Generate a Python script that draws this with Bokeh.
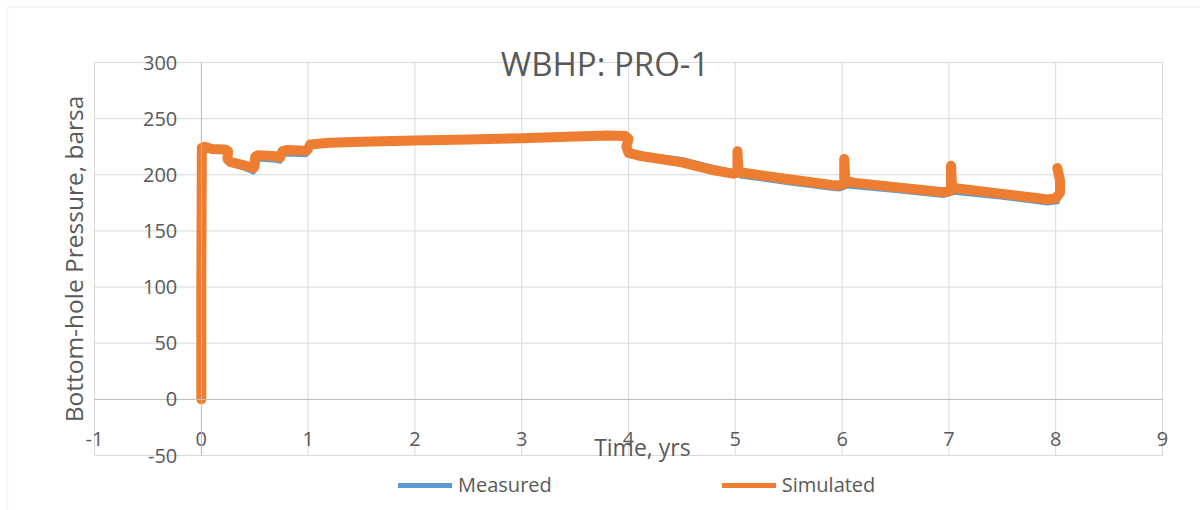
import math
from bokeh.plotting import figure
from bokeh.models import (Range1d, LinearAxis, FixedTicker, Label, Legend, LegendItem, BoxAnnotation)
from bokeh.embed import file_html
from bokeh.resources import INLINE

# ---- data ----
sim_t = [0.0, 0.0, 0.005, 0.03, 0.10, 0.22, 0.25, 0.245, 0.27, 0.40, 0.49, 0.50, 0.505, 0.53, 0.70, 0.74,
         0.76, 0.80, 0.98, 1.00, 1.02, 1.20, 1.50, 2.00, 2.50, 3.00, 3.50, 3.80, 3.97, 4.00, 3.98, 4.00,
         4.10, 4.50, 4.80, 4.98, 5.02, 5.02, 5.03, 5.06, 5.50, 5.90, 5.98, 6.02, 6.02, 6.03, 6.10, 6.50,
         6.95, 7.02, 7.02, 7.03, 7.10, 7.50, 7.80, 7.92, 8.00, 8.04, 8.04, 8.015]
sim_p = [0, 100, 224, 225, 223, 222.5, 221, 214, 211.5, 208.5, 206, 208, 216, 217.5, 216.5, 215.5,
         221, 222, 221.5, 223, 227, 228.5, 229.5, 230.5, 231.5, 232.5, 234, 235, 234.5, 232, 225, 219.5,
         217, 211, 204, 201, 202, 221, 203.5, 202, 196, 191, 190.5, 192, 214, 195, 193, 189,
         184.5, 186, 208, 189, 187.5, 183, 179.5, 178, 179, 184, 195, 206]

meas_t = [0.005, 0.03, 0.10, 0.22, 0.25, 0.27, 0.40, 0.49, 0.51, 0.53, 0.70, 0.74, 0.76, 0.80, 0.98,
          1.00, 1.02, 1.20, 1.50, 2.00, 2.50, 3.00, 3.50, 3.80, 3.97, 4.00, 4.02, 4.10, 4.50, 4.80,
          4.98, 5.05, 5.50, 5.90, 5.98, 6.05, 6.50, 6.95, 7.05, 7.50, 7.80, 7.92, 8.02]
meas_p = [222, 223, 221.5, 221, 219.5, 209, 205.5, 202, 212, 213.5, 212.5, 211.5, 217, 218, 217.5,
          219, 225.5, 227, 228, 229, 230, 231, 232.5, 233.5, 233, 226, 220, 219, 214, 207,
          203, 198.5, 192.5, 187.5, 187, 189.5, 185.5, 181, 184, 179.5, 176, 174.5, 175.5]

x_ticks = [-1, 0, 1, 2, 3, 4, 5, 6, 7, 8, 9]
y_ticks = [-50, 0, 50, 100, 150, 200, 250, 300]

title_text = "WBHP: PRO-1"
x_title = "Time, yrs"
y_title = "Bottom-hole Pressure, barsa"
series_names = ["Measured", "Simulated"]
BLUE = "#5B9BD5"
ORANGE = "#ED7D31"
TXT = "#595959"
GRID = "#d9d9d9"
FONT = "Open Sans"

W, H = 1200, 510
# plot-area placement (pixels) -> view ranges so that the frame covers the whole canvas
PL, PR, PT, PB = 94, 1162, 62, 455
xmin, xmax = x_ticks[0], x_ticks[-1]
ymin, ymax = y_ticks[0], y_ticks[-1]
sx = (PR - PL) / (xmax - xmin)
sy = (PB - PT) / (ymax - ymin)
x_range = Range1d(xmin - PL / sx, xmax + (W - PR) / sx)
y_range = Range1d(ymin - (H - PB) / sy, ymax + PT / sy)

p = figure(width=W, height=H, output_backend="svg", toolbar_location=None,
           x_range=x_range, y_range=y_range, x_axis_type=None, y_axis_type=None,
           min_border_left=0, min_border_right=0, min_border_top=0, min_border_bottom=0)
p.outline_line_color = None
p.background_fill_color = "white"
p.border_fill_color = "white"

# outer chart border
p.add_layout(BoxAnnotation(left=xmin - (PL - 7) / sx, top=ymax + (PT - 6.5) / sy,
                           right=xmax + 5, bottom=ymin - 200,
                           fill_alpha=0, line_color=GRID, line_width=1.5))

# gridlines of the plot area
p.segment(x0=x_ticks, y0=[ymin] * len(x_ticks), x1=x_ticks, y1=[ymax] * len(x_ticks),
          line_color=GRID, line_width=1)
p.segment(x0=[xmin] * len(y_ticks), y0=y_ticks, x1=[xmax] * len(y_ticks), y1=y_ticks,
          line_color=GRID, line_width=1)

xt = FixedTicker(ticks=x_ticks)
yt = FixedTicker(ticks=y_ticks)
xa = LinearAxis(ticker=xt, fixed_location=0, bounds=(xmin, xmax))
ya = LinearAxis(ticker=yt, fixed_location=0, bounds=(ymin, ymax))
xa.major_label_overrides = {t: str(t) for t in x_ticks}
ya.major_label_overrides = {t: str(t) for t in y_ticks}
for ax in (xa, ya):
    ax.axis_line_color = "#bfbfbf"
    ax.major_tick_line_color = None
    ax.minor_tick_line_color = None
    ax.major_tick_out = 0
    ax.major_tick_in = 0
    ax.major_label_text_font = FONT
    ax.major_label_text_font_size = "20px"
    ax.major_label_text_color = TXT
xa.major_label_standoff = 33
ya.major_label_standoff = 24
p.add_layout(xa, "below")
p.add_layout(ya, "left")

r_meas = p.line(meas_t, meas_p, line_color=BLUE, line_width=4, line_cap="round", line_join="round")
r_sim = p.line(sim_t, sim_p, line_color=ORANGE, line_width=10, line_cap="round", line_join="round")

# legend swatches (thinner lines as in reference legend), no visible data
nan = float("nan")
l_meas = p.line([nan], [nan], line_color=BLUE, line_width=5, line_cap="round")
l_sim = p.line([nan], [nan], line_color=ORANGE, line_width=5, line_cap="round")
legend = Legend(items=[LegendItem(label=series_names[0], renderers=[l_meas]),
                       LegendItem(label=series_names[1], renderers=[l_sim])],
                orientation="horizontal", location=(398, 12),
                glyph_width=54, glyph_height=20, label_standoff=6, spacing=170,
                padding=0, margin=0, border_line_color=None, background_fill_alpha=0,
                label_text_font=FONT, label_text_font_size="20px", label_text_color=TXT,
                label_height=20)
p.add_layout(legend, "center")

p.add_layout(Label(x=(xmin + xmax) / 2 - 0.22, y=ymax, y_offset=-1, text=title_text,
                   text_align="center", text_baseline="alphabetic",
                   text_font=FONT, text_font_size="33px", text_color=TXT))
p.add_layout(Label(x=4.13, y=-42.5, text=x_title, text_align="center", text_baseline="middle",
                   text_font=FONT, text_font_size="23px", text_color=TXT))
p.add_layout(Label(x=xmin - 21 / sx, y=(ymin + ymax) / 2, text=y_title,
                   text_align="center", text_baseline="middle",
                   angle=math.pi / 2, text_font=FONT, text_font_size="24.5px", text_color=TXT))

open("out.html", "w").write(file_html(p, INLINE))
